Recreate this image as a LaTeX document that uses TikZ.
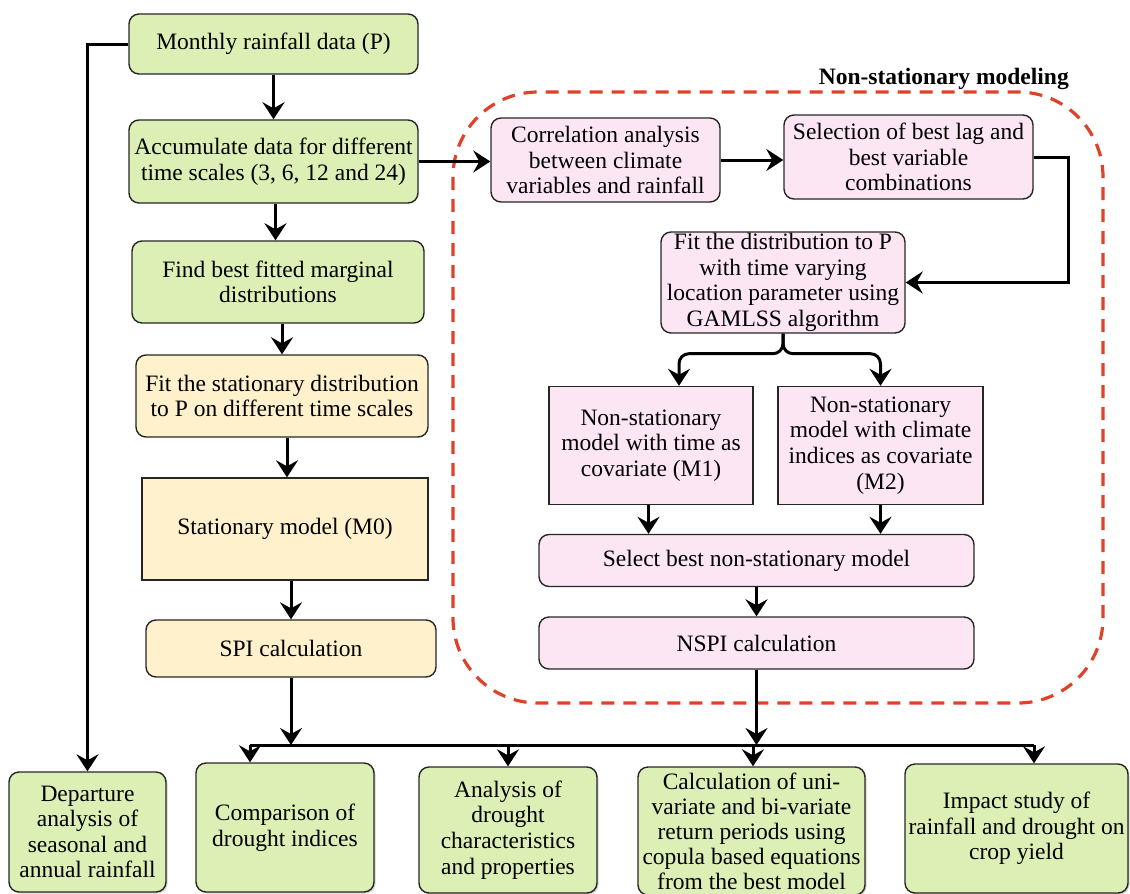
\documentclass[tikz,border=0pt]{standalone}
\usepackage{fontspec}
\setmainfont{Liberation Serif}
\usetikzlibrary{arrows.meta,shadows}
\definecolor{greenfill}{HTML}{DCEFB5}
\definecolor{yellowfill}{HTML}{FFF1CC}
\definecolor{pinkfill}{HTML}{FCE6F4}
\definecolor{boxline}{HTML}{262626}
\definecolor{zonered}{HTML}{DF4129}
\tikzset{
  box/.style={draw=boxline, line width=1.4pt, align=center, inner sep=0pt,
    font=\fontsize{23.5}{25.6}\selectfont},
  rbox/.style={box, rounded corners=10pt},
  gbox/.style={rbox, fill=greenfill},
  ybox/.style={rbox, fill=yellowfill},
  ysq/.style={box, fill=yellowfill},
  pbox/.style={rbox, fill=pinkfill},
  psq/.style={box, fill=pinkfill},
  outbox/.style={gbox, drop shadow={shadow xshift=1.5pt, shadow yshift=-1.5pt, opacity=0.35}},
  arr/.style={line width=3pt, -{Stealth[length=17pt,width=22pt,inset=6pt]}},
  link/.style={line width=3pt},
  zone/.style={draw=zonered, line width=3.2pt, dash pattern=on 13pt off 9pt, rounded corners=85pt},
}
\begin{document}
\begin{tikzpicture}[x=1pt,y=-1pt]
\clip (0,0) rectangle (1130,894);
\useasboundingbox (0,0) rectangle (1130,894);

% non-stationary zone
\draw[zone] (453,92) rectangle (1103,703);
\node[font=\fontsize{23.5}{25.6}\selectfont\bfseries, anchor=base east, inner sep=0pt] (zonetitle) at (1069,84) {Non-stationary modeling};

% stationary branch
\node[gbox, minimum width=289, minimum height=60] (mon) at (273.5,44) {Monthly rainfall data (P)};
\node[gbox, minimum width=289, minimum height=83] (acc) at (273.5,161.5) {Accumulate data for different\\time scales (3, 6, 12 and 24)};
\node[gbox, minimum width=292, minimum height=82] (find) at (278,282) {Find best fitted marginal\\distributions};
\node[ybox, minimum width=292, minimum height=82] (fitst) at (282,396) {Fit the stationary distribution\\to P on different time scales};
\node[ysq, minimum width=286, minimum height=102] (stat) at (285,529) {Stationary model (M0)};
\node[ybox, minimum width=290, minimum height=57] (spi) at (291,648.5) {SPI calculation};

% non-stationary branch
\node[pbox, minimum width=229, minimum height=84] (corr) at (605.5,160) {Correlation analysis\\between climate\\variables and rainfall};
\node[pbox, minimum width=249, minimum height=84] (sel) at (908.5,157) {Selection of best lag and\\best variable\\combinations};
\node[pbox, minimum width=244, minimum height=101] (fitd) at (783,282.5) {Fit the distribution to P\\with time varying\\location parameter using\\GAMLSS algorithm};
\node[psq, minimum width=204, minimum height=118] (m1) at (651,445.5) {Non-stationary\\model with time as\\covariate (M1)};
\node[psq, minimum width=205, minimum height=118] (m2) at (880.5,445.5) {Non-stationary\\model with climate\\indices as covariate\\(M2)};
\node[pbox, minimum width=435, minimum height=52] (selb) at (756.5,560.5) {Select best non-stationary model};
\node[pbox, minimum width=435, minimum height=52] (nspi) at (756.5,643) {NSPI calculation};

% outcomes
\node[outbox, minimum width=157, minimum height=120] (dep) at (87.5,832) {Departure\\analysis of\\seasonal and\\annual rainfall};
\node[outbox, minimum width=178, minimum height=129] (comp) at (285,827.5) {Comparison of\\drought indices};
\node[outbox, minimum width=178, minimum height=126] (anal) at (508,830) {Analysis of\\drought\\characteristics\\and properties};
\node[outbox, minimum width=227, minimum height=128, font=\fontsize{23.5}{25}\selectfont] (calc) at (751.5,831) {Calculation of uni-\\variate and bi-variate\\return periods using\\copula based equations\\from the best model};
\node[outbox, minimum width=223, minimum height=129] (imp) at (1016.5,828.5) {Impact study of\\rainfall and drought on\\crop yield};

% distribution bus
\coordinate (busL) at (250,745);
\coordinate (busR) at (1034,745);

% connectors
\draw[arr] (mon) -- (acc);
\draw[arr] ([xshift=2pt]acc.south) -- ([xshift=2pt]acc.south |- find.north);
\draw[arr] ([xshift=4pt]find.south) -- ([xshift=4pt]find.south |- fitst.north);
\draw[arr] ([xshift=5pt]fitst.south) -- ([xshift=5pt]fitst.south |- stat.north);
\draw[arr] ([xshift=6pt]stat.south) -- ([xshift=6pt]stat.south |- spi.north);
\draw[arr] (mon.west) -| (dep.north);

\draw[arr] (acc.east) -- (acc.east -| corr.west);
\draw[arr] (corr.east) -- (corr.east -| sel.west);
\draw[arr] (sel.east) -- ++(35,0) |- (fitd.east);
\draw[arr, rounded corners=10pt] (fitd.south) -- ++(0,20) -| ([xshift=28pt]m1.north);
\draw[arr, rounded corners=10pt] (fitd.south) -- ++(0,20) -| (m2.north);
\draw[arr] ([xshift=-2.5pt]m1.south) -- ([xshift=-2.5pt]m1.south |- selb.north);
\draw[arr] (m2.south) -- (m2.south |- selb.north);
\draw[arr] (selb) -- (nspi);

\draw[link] (busL) -- (busR);
\draw[arr] (spi.south) -- (spi.south |- busL);
\draw[arr] (nspi.south) -- (nspi.south |- busL);
\draw[arr] (busL) -- (busL |- comp.north);
\draw[arr] (anal.north |- busL) -- (anal.north);
\draw[arr] ([xshift=1.5pt]calc.north |- busL) -- ([xshift=1.5pt]calc.north);
\draw[arr] (busR) -- (busR |- imp.north);
\end{tikzpicture}
\end{document}
